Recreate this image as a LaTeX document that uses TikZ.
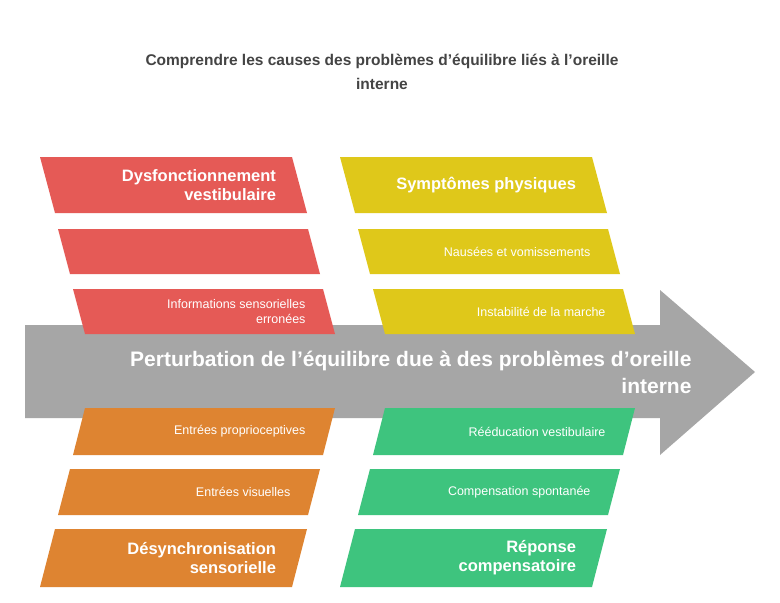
\documentclass[tikz,border=0pt]{standalone}
\usepackage{fontspec}
\setmainfont{Liberation Sans}
\definecolor{redc}{HTML}{E55A56}
\definecolor{yelc}{HTML}{DFC81A}
\definecolor{orac}{HTML}{DE8431}
\definecolor{grec}{HTML}{3EC47E}
\definecolor{arrc}{HTML}{A6A6A6}
\definecolor{titc}{HTML}{444444}
% slab: colour, top-left x, top y, bottom-left x, bottom y, width, name, text, style
\newcommand{\slab}[9]{%
  \fill[#1] (#2,#3) -- ++(#6,0) -- (#4+#6,#5) -- (#4,#5) -- cycle;
  \node[#9, anchor=east] (#7) at ({(#2+#4)/2+#6-20},{(#3+#5)/2}) {#8};}
\begin{document}
\begin{tikzpicture}
  [x=1pt, y=-1pt,
   big/.style={font=\fontsize{16.5}{19}\selectfont\bfseries, text=white, align=right},
   small/.style={font=\fontsize{12.5}{15}\selectfont, text=white, align=right},
  ]
  \useasboundingbox[fill=white] (0,0) rectangle (780,603);
  % Title
  \node[font=\fontsize{15.5}{24}\selectfont\bfseries, text=titc, align=center] (title) at (382,72)
    {Comprendre les causes des problèmes d'équilibre liés à l'oreille\\interne};
  % Main arrow
  \fill[arrc] (25,325) -- (660,325) -- (660,290) -- (755,372) -- (660,455) -- (660,418) -- (25,418) -- cycle;
  \node[font=\fontsize{21}{27}\selectfont\bfseries, text=white, align=right, anchor=east] (effect) at (695,372)
    {Perturbation de l'équilibre due à des problèmes d'oreille\\interne};
  % Upper left
  \slab{redc}{40}{157}{55}{213}{252}{dysf}{Dysfonctionnement\\vestibulaire}{big}
  \slab{redc}{58}{229}{70}{274}{250}{empty}{}{small}
  \slab{redc}{73}{289}{85}{334}{250}{info}{Informations sensorielles\\erronées}{small}
  % Upper right
  \slab{yelc}{340}{157}{355}{213}{252}{symp}{Symptômes physiques}{big}
  \slab{yelc}{358}{229}{370}{274}{250}{naus}{Nausées et vomissements}{small}
  \slab{yelc}{373}{289}{385}{334}{250}{inst}{Instabilité de la marche}{small}
  % Lower left
  \slab{orac}{85}{408}{73}{455}{250}{prop}{Entrées proprioceptives}{small}
  \slab{orac}{70}{469}{58}{515}{250}{visu}{Entrées visuelles}{small}
  \slab{orac}{55}{529}{40}{587}{252}{desy}{Désynchronisation\\sensorielle}{big}
  % Lower right
  \slab{grec}{385}{408}{373}{455}{250}{reed}{Rééducation vestibulaire}{small}
  \slab{grec}{370}{469}{358}{515}{250}{comp}{Compensation spontanée}{small}
  \slab{grec}{355}{529}{340}{587}{252}{repo}{Réponse\\compensatoire}{big}
\end{tikzpicture}
\end{document}
